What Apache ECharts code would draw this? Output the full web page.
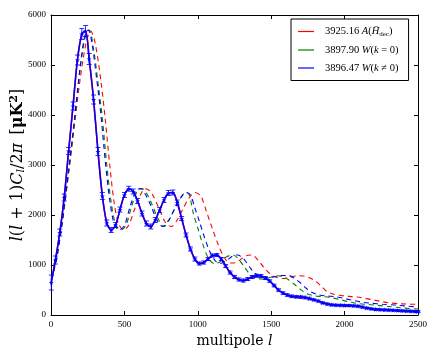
<!DOCTYPE html>
<html>
<head>
<meta charset="utf-8">
<script src="https://cdn.jsdelivr.net/npm/echarts@6/dist/echarts.min.js"></script>
<style>
  html, body { margin: 0; background: #fff; }
  #chart { width: 436px; height: 354px; }
</style>
</head>
<body>
<div id="chart"></div>
<script>
// binned data points (multipole, D_l, error)
const multipoles = [2,30,60,90,120,150,180,210,235,260,290,320,350,380,410,440,470,500,530,560,
  590,620,650,680,710,740,770,800,830,860,890,920,950,980,1010,1040,1070,1100,1130,1160,
  1190,1220,1250,1280,1310,1340,1370,1400,1430,1460,1490,1520,1550,1580,1610,1640,1670,1700,1730,1760,
  1790,1820,1850,1880,1910,1940,1970,2000,2030,2060,2090,2120,2150,2180,2210,2240,2270,2300,2330,2360,
  2390,2420,2450,2480,2500];
const dlValues = [650,1100,1650,2350,3280,4180,5100,5620,5680,5120,4310,3270,2380,1840,1700,1800,2110,2400,2525,2470,
  2280,2030,1830,1770,1900,2100,2300,2440,2450,2250,1930,1600,1320,1120,1030,1050,1120,1190,1200,1120,
  980,850,760,710,690,720,760,785,780,740,680,590,500,440,400,375,365,360,350,330,
  305,280,245,222,205,198,195,192,190,185,178,160,140,125,113,108,104,100,95,90,
  85,80,77,72,70];
const dlErrors = [150,80,70,70,70,80,100,110,110,110,90,80,70,60,50,50,50,50,50,50,
  50,50,50,50,50,50,50,50,50,50,40,40,40,40,30,30,30,30,30,30,
  30,30,30,30,30,30,30,30,30,30,25,25,25,25,25,25,25,25,25,25,
  20,20,20,20,20,20,20,20,20,20,20,20,20,20,20,20,20,20,20,20,
  20,20,20,20,20];

// shifted model curves [l, D_l]
const curveA = [[2,700],[40,1200],[80,1900],[120,2850],[160,3800],[200,4750],[240,5450],[270,5680],[300,5450],
  [340,4680],[370,3900],[400,3000],[430,2250],[460,1830],[495,1700],[530,1800],[570,2120],[610,2410],[640,2525],
  [670,2490],[700,2360],[740,2100],[780,1850],[820,1770],[860,1900],[900,2130],[940,2340],[980,2450],[1020,2380],
  [1060,2060],[1100,1720],[1140,1400],[1180,1150],[1220,1040],[1260,1050],[1300,1130],[1340,1195],[1370,1200],
  [1410,1100],[1450,950],[1490,830],[1530,760],[1580,730],[1620,750],[1680,785],[1720,780],[1760,745],[1800,680],
  [1840,580],[1880,470],[1920,420],[1960,395],[2000,380],[2060,365],[2120,345],[2180,310],[2240,275],[2300,245],
  [2360,228],[2420,220],[2500,212]];
const curveW0 = [[2,700],[40,1150],[80,1930],[120,2850],[160,3860],[200,4960],[235,5580],[260,5700],[290,5320],
  [320,4650],[350,3930],[380,3000],[410,2250],[440,1820],[475,1700],[510,1790],[550,2180],[590,2490],[620,2530],
  [650,2440],[690,2200],[730,1920],[770,1770],[805,1900],[845,2140],[885,2350],[915,2450],[940,2420],[970,2030],
  [1000,1740],[1030,1450],[1070,1150],[1110,1030],[1150,1060],[1200,1170],[1240,1200],[1280,1110],[1320,950],
  [1360,800],[1400,730],[1440,720],[1490,750],[1540,785],[1580,770],[1620,700],[1660,610],[1700,510],[1740,430],
  [1790,385],[1850,368],[1900,350],[1960,315],[2020,270],[2080,235],[2140,215],[2220,195],[2300,170],[2400,140],
  [2500,120]];
const curveW1 = [[2,700],[40,1150],[80,1950],[120,2900],[160,3930],[200,5000],[230,5580],[255,5700],[280,5420],
  [310,4750],[340,4000],[370,3070],[400,2300],[430,1830],[465,1700],[500,1790],[540,2180],[580,2490],[610,2530],
  [640,2430],[680,2190],[720,1910],[760,1770],[800,1890],[840,2110],[880,2330],[920,2450],[950,2400],[980,2140],
  [1010,1880],[1040,1600],[1080,1280],[1120,1080],[1150,1030],[1190,1080],[1240,1185],[1270,1200],[1310,1130],
  [1350,970],[1390,830],[1440,760],[1480,750],[1530,770],[1580,790],[1620,790],[1660,730],[1700,640],[1740,530],
  [1780,450],[1830,400],[1880,380],[1940,365],[2000,330],[2060,290],[2120,255],[2180,235],[2260,215],[2340,200],
  [2420,180],[2500,160]];

const xTicks = { min: 0, max: 2500, interval: 500 };
const yTicks = { min: 0, max: 6000, interval: 1000 };

const legendLabels = {
  A: '3925.16 {i|A}({i|H\u0304}{s|dec})',
  W0: '3897.90 {i|W}({i|k} = 0)',
  W1: '3896.47 {i|W}({i|k} \u2260 0)'
};

const serif = 'Liberation Serif';
const labelSerif = 'DejaVu Serif';
const starPath = 'path://M50,0 L61,35 L98,35 L68,57 L79,91 L50,70 L21,91 L32,57 L2,35 L39,35 Z';

const points = multipoles.map((l, i) => [l, dlValues[i]]);
const bars = multipoles.map((l, i) => [l, dlValues[i], dlErrors[i]]);

const chart = echarts.init(document.getElementById('chart'));

function axisCommon(show) {
  return {
    axisLine: { show: true, onZero: false, lineStyle: { color: '#000', width: 1 } },
    axisTick: { show: true, inside: true, length: 4, lineStyle: { color: '#000' } },
    axisLabel: {
      show: show, color: '#000', fontFamily: serif, fontSize: 9, margin: 5,
      formatter: v => String(v)
    },
    splitLine: { show: false }
  };
}

const option = {
  animation: false,
  backgroundColor: '#fff',
  grid: { left: 51, right: 18, top: 15, bottom: 39, outerBoundsMode: 'none', containLabel: false },
  xAxis: [
    Object.assign({
      type: 'value', position: 'bottom', ...xTicks,
      name: '{n|multipole }{i|l}',
      nameLocation: 'middle', nameGap: 15,
      nameTextStyle: {
        rich: {
          n: { fontFamily: labelSerif, fontSize: 14, color: '#000' },
          i: { fontFamily: labelSerif, fontSize: 14, fontStyle: 'italic', color: '#000' }
        }
      }
    }, axisCommon(true)),
    Object.assign({ type: 'value', position: 'top', ...xTicks }, axisCommon(false))
  ],
  yAxis: [
    Object.assign({
      type: 'value', position: 'left', ...yTicks,
      name: '{i|l}{n|(}{i|l}{n| + 1)}{i|C}{s|l}{n|/2}{i|\u03c0} {n| [}{b|\u03bcK}{p|2}{n|]}',
      nameLocation: 'middle', nameGap: 24, nameRotate: 90, nameMoveOverlap: false,
      nameTextStyle: {
        rich: {
          n: { fontFamily: labelSerif, fontSize: 16, color: '#000' },
          i: { fontFamily: labelSerif, fontSize: 16, fontStyle: 'italic', color: '#000' },
          b: { fontFamily: labelSerif, fontSize: 16, fontWeight: 'bold', color: '#000' },
          s: { fontFamily: labelSerif, fontSize: 11, fontStyle: 'italic', color: '#000', verticalAlign: 'bottom', padding: [7, 0, 0, 0] },
          p: { fontFamily: labelSerif, fontSize: 11, fontWeight: 'bold', color: '#000', verticalAlign: 'top', padding: [0, 0, 7, 0] }
        }
      }
    }, axisCommon(true)),
    Object.assign({ type: 'value', position: 'right', ...yTicks }, axisCommon(false))
  ],
  legend: {
    data: ['A', 'W0', 'W1'],
    orient: 'vertical',
    left: 291, top: 19,
    padding: [7, 10, 7, 7],
    itemGap: 7,
    itemWidth: 16, itemHeight: 1.2,
    icon: 'rect',
    borderColor: '#000', borderWidth: 1, borderRadius: 0,
    backgroundColor: '#fff',
    formatter: name => legendLabels[name],
    textStyle: {
      color: '#000', fontFamily: serif, fontSize: 10.5, padding: [0, 0, 0, 6],
      rich: {
        i: { fontFamily: serif, fontSize: 10.5, fontStyle: 'italic', color: '#000' },
        s: { fontFamily: serif, fontSize: 7, color: '#000', verticalAlign: 'bottom', padding: [5, 0, 0, 0] }
      }
    }
  },
  series: [
    {
      name: 'model', type: 'line', data: points, smooth: 0.3, symbol: 'none',
      lineStyle: { color: '#ff0000', width: 1.6 }, z: 2, silent: true
    },
    {
      name: 'A', type: 'line', data: curveA, smooth: 0.3, symbol: 'none',
      itemStyle: { color: '#ff0000' },
      lineStyle: { color: '#ff0000', width: 1.1, type: [5, 4] }, z: 3
    },
    {
      name: 'W0', type: 'line', data: curveW0, smooth: 0.3, symbol: 'none',
      itemStyle: { color: '#008000' },
      lineStyle: { color: '#008000', width: 1.1, type: [5, 4] }, z: 3
    },
    {
      name: 'W1', type: 'line', data: curveW1, smooth: 0.3, symbol: 'none',
      itemStyle: { color: '#0000ff' },
      lineStyle: { color: '#0000ff', width: 1.1, type: [5, 4] }, z: 3
    },
    {
      name: 'data', type: 'line', data: points, smooth: 0.3,
      symbol: starPath, symbolSize: 5, showSymbol: true,
      itemStyle: { color: '#0000ff' },
      lineStyle: { color: '#0000ff', width: 1.5 }, z: 5
    },
    {
      name: 'errors', type: 'custom', data: bars, z: 6,
      renderItem: function (params, api) {
        const x = api.value(0), y = api.value(1), e = api.value(2);
        const lo = api.coord([x, y - e]);
        const hi = api.coord([x, y + e]);
        const w = 2.5;
        const st = { stroke: '#0000ff', lineWidth: 0.8 };
        return {
          type: 'group',
          children: [
            { type: 'line', shape: { x1: lo[0], y1: lo[1], x2: hi[0], y2: hi[1] }, style: st },
            { type: 'line', shape: { x1: lo[0] - w, y1: lo[1], x2: lo[0] + w, y2: lo[1] }, style: st },
            { type: 'line', shape: { x1: hi[0] - w, y1: hi[1], x2: hi[0] + w, y2: hi[1] }, style: st }
          ]
        };
      }
    }
  ]
};

chart.setOption(option);
</script>
</body>
</html>
